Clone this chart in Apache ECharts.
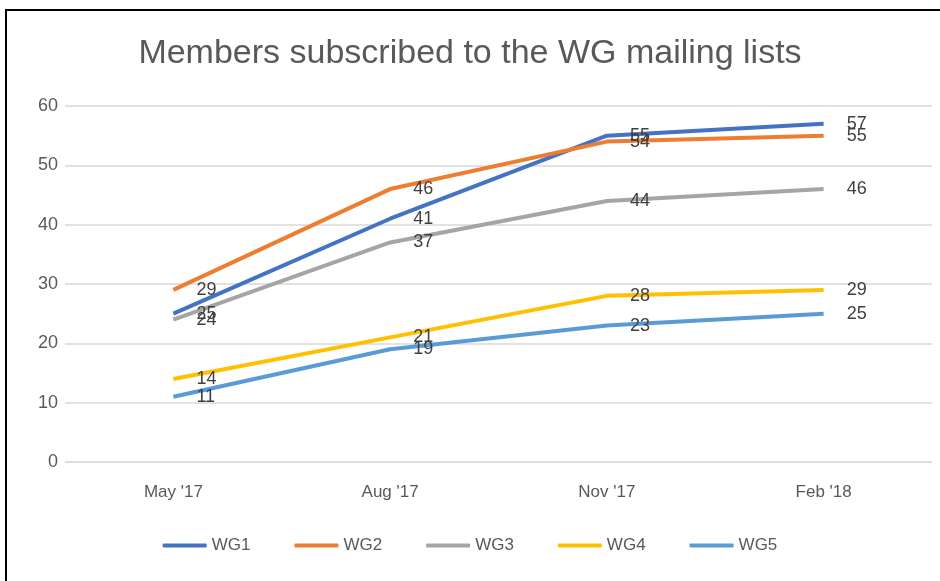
<!DOCTYPE html>
<html>
<head>
<meta charset="utf-8">
<script src="https://cdn.jsdelivr.net/npm/echarts@6/dist/echarts.min.js"></script>
<style>
  html, body { margin: 0; padding: 0; background: #fff; overflow: hidden; }
  #chart { width: 940px; height: 581px; }
  #frame { position: absolute; left: 5px; top: 9px; width: 1000px; height: 1000px;
           border-top: 2px solid #000; border-left: 2px solid #000; pointer-events: none; }
</style>
</head>
<body>
<div id="chart"></div>
<div id="frame"></div>
<script>
const months = ["May '17", "Aug '17", "Nov '17", "Feb '18"]
const wg1 = [25, 41, 55, 57]
const wg2 = [29, 46, 54, 55]
const wg3 = [24, 37, 44, 46]
const wg4 = [14, 21, 28, 29]
const wg5 = [11, 19, 23, 25]

const font = '"Liberation Sans", sans-serif'
const colors = ['#4472C4', '#ED7D31', '#A5A5A5', '#FFC000', '#5B9BD5']

const line = (name, data) => ({
  name,
  type: 'line',
  data,
  symbol: 'circle',
  symbolSize: 0.1,
  lineStyle: { width: 4 },
  label: {
    show: true,
    position: 'right',
    distance: 23,
    color: '#404040',
    fontSize: 18,
    fontFamily: font
  }
})

const chart = echarts.init(document.getElementById('chart'))
chart.setOption({
  animation: false,
  color: colors,
  title: {
    text: 'Members subscribed to the WG mailing lists',
    left: 'center',
    top: 32,
    textStyle: { color: '#595959', fontSize: 34, fontWeight: 'normal', fontFamily: font }
  },
  legend: {
    bottom: 22,
    left: 'center',
    itemWidth: 44,
    itemHeight: 4,
    itemGap: 44,
    icon: 'roundRect',
    textStyle: { color: '#595959', fontSize: 17, fontFamily: font }
  },
  grid: { left: 65, right: 8, top: 106, bottom: 119 },
  xAxis: {
    type: 'category',
    data: months,
    axisLine: { lineStyle: { color: '#d9d9d9' } },
    axisTick: { show: false },
    axisLabel: { color: '#595959', fontSize: 17, fontFamily: font, margin: 22 }
  },
  yAxis: {
    type: 'value',
    min: 0,
    max: 60,
    interval: 10,
    axisLabel: { color: '#595959', fontSize: 18, fontFamily: font, margin: 7 },
    splitLine: { lineStyle: { color: '#d9d9d9', width: 1.5 } }
  },
  series: [
    line('WG1', wg1),
    line('WG2', wg2),
    line('WG3', wg3),
    line('WG4', wg4),
    line('WG5', wg5)
  ]
})
</script>
</body>
</html>
